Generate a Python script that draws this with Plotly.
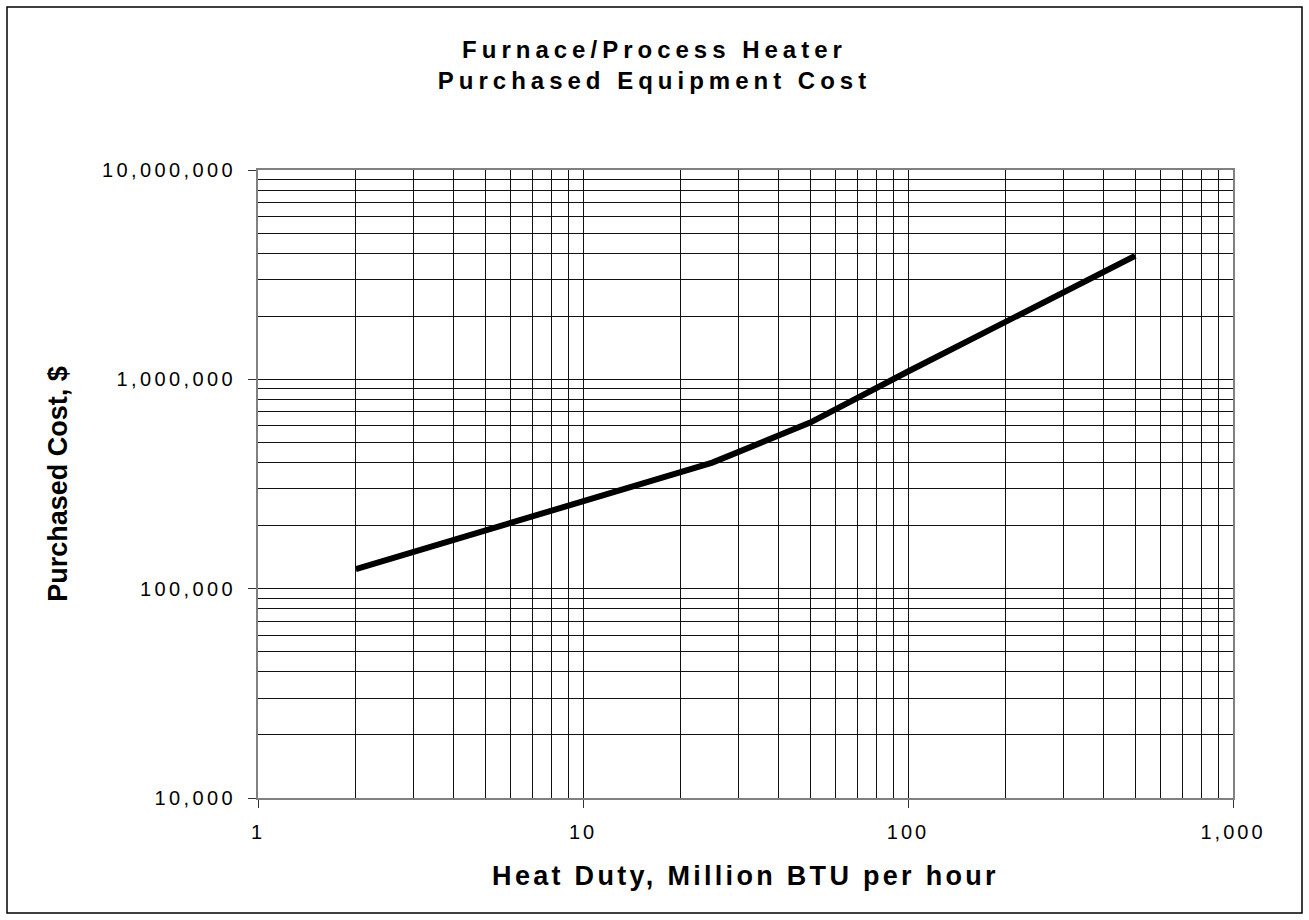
import plotly.graph_objects as go

# Data
heat_duty = [2, 25, 50, 100, 500]                      # Million BTU per hour
purchased_cost = [124000, 400000, 621000, 1090000, 3890000]  # $

x_tick_vals = [1, 10, 100, 1000]
x_tick_text = ["1", "10", "100", "1,000"]
y_tick_vals = [10000, 100000, 1000000, 10000000]
y_tick_text = ["10,000", "100,000", "1,000,000", "10,000,000"]

title_lines = ["Furnace/Process Heater", "Purchased Equipment Cost"]
x_title = "Heat Duty, Million BTU per hour"
y_title = "Purchased Cost, $"

FONT = "Liberation Sans, Arial, sans-serif"


def spaced(s, px):
    return f'<span style="letter-spacing:{px}px">{s}</span>'


def minor_vals(lo_exp, hi_exp):
    vals = []
    for e in range(lo_exp, hi_exp):
        for m in range(2, 10):
            vals.append(m * 10 ** e)
    return vals


fig = go.Figure()
fig.add_trace(go.Scatter(
    x=heat_duty, y=purchased_cost, mode="lines",
    line=dict(color="black", width=6),
    showlegend=False, hoverinfo="x+y",
))

W, H = 1309, 920
L, R, T, B = 258, 76, 170, 122
PW, PH = W - L - R, H - T - B

axis_common = dict(
    type="log",
    showgrid=True, gridcolor="#111111", gridwidth=1,
    showline=True, linecolor="#808080", linewidth=2, mirror=True,
    ticks="outside", ticklen=8, tickwidth=1, tickcolor="#333333",
    tickfont=dict(family=FONT, size=20, color="black"),
    zeroline=False,
)

fig.update_layout(
    width=W, height=H,
    paper_bgcolor="white", plot_bgcolor="white",
    margin=dict(l=L, r=R, t=T, b=B, autoexpand=False),
    title=dict(
        text=spaced(title_lines[0], 5) + "<br>" + spaced(title_lines[1], 5),
        font=dict(family=FONT, size=24, color="black", weight="bold"),
        x=0.5, xref="container", xanchor="center",
        y=1 - 58 / H, yref="container", yanchor="top",
    ),
    xaxis=dict(
        **axis_common,
        range=[0, 3],
        tickvals=x_tick_vals,
        ticktext=[spaced(t, 3) for t in x_tick_text],
        ticklabelstandoff=7,
        minor=dict(tickvals=minor_vals(0, 3), showgrid=True,
                   gridcolor="#111111", gridwidth=1, ticks=""),
        title=dict(text=spaced(x_title, 3.3),
                   font=dict(family=FONT, size=27, color="black", weight="bold"),
                   standoff=24),
    ),
    yaxis=dict(
        **axis_common,
        range=[4, 7],
        tickvals=y_tick_vals,
        ticktext=[spaced(t, 3.4) for t in y_tick_text],
        ticklabelstandoff=8,
        minor=dict(tickvals=minor_vals(4, 7), showgrid=True,
                   gridcolor="#111111", gridwidth=1, ticks=""),
        title=dict(text=y_title,
                   font=dict(family=FONT, size=27, color="black", weight="bold"),
                   standoff=26),
    ),
    shapes=[dict(
        type="rect", xref="paper", yref="paper",
        x0=(7 - L) / PW, x1=(1302 - L) / PW,
        y0=-(913 - (H - B)) / PH,
        y1=1 + (T - 7) / PH,
        line=dict(color="black", width=1.5), fillcolor="rgba(0,0,0,0)",
        layer="above",
    )],
)

fig.write_html(
    "out.html",
    config={"displayModeBar": False},
    post_script="document.body.style.margin='0';document.body.style.overflow='hidden';",
)
